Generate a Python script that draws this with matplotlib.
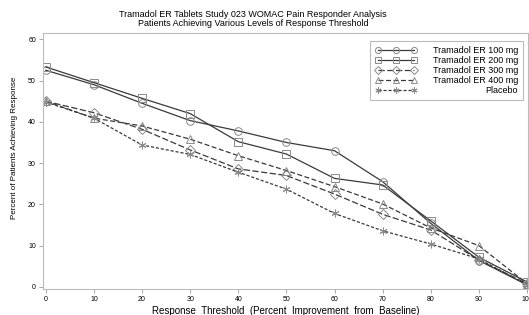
import matplotlib
matplotlib.use('Agg')
import matplotlib.pyplot as plt

plt.rcParams['font.family'] = ['Liberation Sans', 'DejaVu Sans']

# response threshold (percent improvement from baseline)
threshold = [0, 10, 20, 30, 40, 50, 60, 70, 80, 90, 100]

er100 = [52.5, 49.0, 44.5, 40.3, 37.8, 35.0, 33.0, 25.5, 15.4, 6.4, 0.5]
er200 = [53.3, 49.5, 45.7, 42.0, 35.2, 32.2, 26.3, 24.7, 16.0, 7.2, 1.2]
er300 = [45.0, 42.2, 38.2, 33.2, 28.6, 27.0, 22.5, 17.6, 13.8, 6.5, 0.8]
er400 = [45.0, 40.9, 39.0, 35.8, 31.8, 28.2, 24.3, 20.1, 14.3, 10.0, 0.8]
placebo = [44.8, 40.9, 34.4, 32.1, 27.8, 23.7, 17.8, 13.6, 10.4, 6.8, 0.5]

labels = ['Tramadol ER 100 mg', 'Tramadol ER 200 mg', 'Tramadol ER 300 mg',
          'Tramadol ER 400 mg', 'Placebo']
series = [er100, er200, er300, er400, placebo]
markers = ['o', 's', 'D', '^', (6, 2, 0)]
styles = ['-', '-', (0, (5, 2)), (0, (4, 2)), (0, (2.5, 1.5))]

fig = plt.figure(figsize=(5.29, 3.15), dpi=100)
ax = fig.add_axes([0.081, 0.0825, 0.918, 0.8125])

for vals, lab, m, ls in zip(series, labels, markers, styles):
    ax.plot(threshold, vals, linestyle=ls, color='#3a3a3a', linewidth=0.9,
            marker=m, markersize=5.5, markerfacecolor='none',
            markeredgecolor='#8a8a8a', markeredgewidth=0.7, label=lab)

ax.set_xlim(-0.6, 100.3)
ax.set_ylim(-0.5, 61.5)
ax.set_xticks(threshold)
ax.set_yticks([0, 10, 20, 30, 40, 50, 60])
ax.tick_params(labelsize=5, length=3, width=0.6, color='#999999', pad=2)
for s in ax.spines.values():
    s.set_color('#bbbbbb')
    s.set_linewidth(0.8)

leg = ax.legend(loc='upper right', bbox_to_anchor=(0.997, 0.985), fontsize=6.5,
                numpoints=3, markerscale=0.8, handlelength=4.6, frameon=True,
                fancybox=False, borderpad=0.5, labelspacing=0.12,
                handletextpad=1.8)
leg.get_frame().set_edgecolor('#aaaaaa')
leg.get_frame().set_linewidth(0.8)

# right-align the legend labels
fig.canvas.draw()
renderer = fig.canvas.get_renderer()
boxes = [t.get_window_extent(renderer) for t in leg.get_texts()]
right = max(b.x1 for b in boxes)
for t, b in zip(leg.get_texts(), boxes):
    t.set_visible(False)
    xf, yf = fig.transFigure.inverted().transform((right, (b.y0 + b.y1) / 2))
    fig.text(xf, yf, t.get_text(), ha='right', va='center', fontsize=6.5)

fig.text(0.478, 0.955, 'Tramadol ER Tablets Study 023 WOMAC Pain Responder Analysis',
         ha='center', va='center', fontsize=6.5)
fig.text(0.478, 0.925, 'Patients Achieving Various Levels of Response Threshold',
         ha='center', va='center', fontsize=6.5)
fig.text(0.028, 0.53, 'Percent of Patients Achieving Response', rotation=90,
         ha='center', va='center', fontsize=5.8)
fig.text(0.54, 0.014, 'Response  Threshold  (Percent  Improvement  from  Baseline)',
         ha='center', va='center', fontsize=7)

fig.savefig('out.png', dpi=100)
